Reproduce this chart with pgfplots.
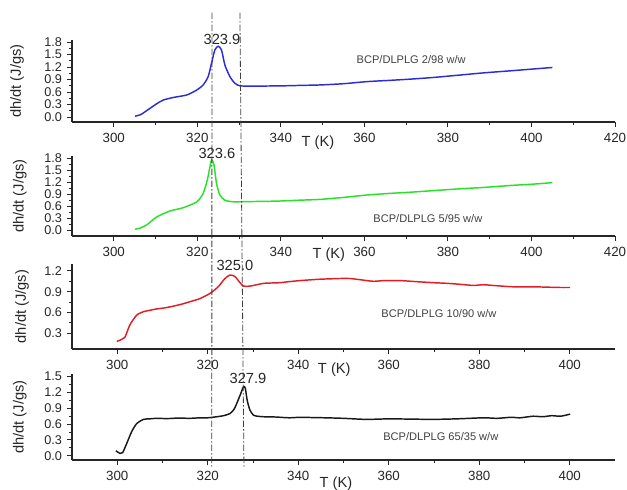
\documentclass[border=0pt]{standalone}
\usepackage{fontspec}
\setmainfont{Liberation Sans}
\usepackage{pgfplots}
\pgfplotsset{compat=1.18}

\definecolor{cblue}{RGB}{45,45,215}
\definecolor{cgreen}{RGB}{40,225,40}
\definecolor{cred}{RGB}{225,30,40}

\pgfplotsset{
  panel/.style={
    scale only axis, width=407.25pt,
    axis x line*=bottom, axis y line*=left,
    axis line style={-, line width=0.8pt, black!85},
    tick align=outside, major tick length=4pt, minor tick length=2.5pt,
    minor x tick num=1, minor y tick num=1,
    tick style={line width=0.7pt, black!85},
    clip=false,
    /pgf/number format/assume math mode=true,
    xticklabel style={font=\fontsize{10}{12}\selectfont, black!85, yshift=-1pt},
    yticklabel style={font=\fontsize{9.5}{10}\selectfont, black!85,
      /pgf/number format/.cd, fixed, fixed zerofill, precision=1},
    xlabel={T (K)},
    ylabel={dh/dt (J/gs)},
    label style={font=\fontsize{11}{13}\selectfont, black!85},
  },
  curve/.style={line width=1.1pt, smooth, tension=0.4},
}
\tikzset{
  ann/.style={font=\fontsize{11}{13}\selectfont, black!85},
  leg/.style={font=\fontsize{8.3}{10}\selectfont, black!75},
}

\begin{document}
\begin{tikzpicture}
\path[use as bounding box] (0,0) rectangle (470.25pt,-366.75pt);

% panel 1
\begin{axis}[panel, at={(54pt,-91.5pt)}, anchor=south west, height=61.5pt,
  xmin=290, xmax=420, ymin=-0.12, ymax=1.85,
  xtick={300,320,...,420}, ytick={0,0.3,...,1.8},
  xlabel style={at={(axis description cs:0.453,0)}, anchor=north, inner sep=0pt, yshift=-10pt},
  ylabel style={at={(axis description cs:-0.101,0.5)}, anchor=center}]
\addplot[curve, cblue] coordinates {(305.1,0.02)(306.5,0.06)(308.7,0.21)(310.3,0.32)(311.9,0.41)(314.3,0.47)(317.5,0.53)(319.9,0.65)(321.4,0.77)(322.6,0.97)(323.4,1.29)(324.2,1.61)(325.0,1.70)(325.8,1.61)(326.6,1.25)(327.8,0.97)(329.0,0.81)(330.2,0.75)(333,0.74)(337,0.745)(341,0.75)(345,0.76)(349.4,0.77)(355,0.80)(360.6,0.85)(366,0.88)(371,0.91)(376.5,0.95)(382,1.00)(388.5,1.06)(395,1.11)(400,1.15)(405.0,1.19)};
\node[ann] at (axis cs:325.9,1.86) {323.9};
\node[leg] at (axis cs:371.2,1.39) {BCP/DLPLG 2/98 w/w};
\coordinate (L1t) at (axis cs:323.5,2.51);
\coordinate (L2t) at (axis cs:330.2,2.51);
\end{axis}

% panel 2
\begin{axis}[panel, at={(54pt,-177pt)}, anchor=south west, height=60pt,
  xmin=290, xmax=420, ymin=-0.15, ymax=1.86,
  xtick={300,320,...,420}, ytick={0,0.3,...,1.8},
  xlabel style={at={(axis description cs:0.473,0)}, anchor=north, inner sep=0pt, yshift=-9pt},
  ylabel style={at={(axis description cs:-0.096,0.5)}, anchor=center}]
\addplot[curve, cgreen] coordinates {(305.1,0.02)(306.3,0.05)(307.9,0.13)(310.3,0.33)(313.5,0.48)(316.6,0.56)(319.9,0.71)(321.4,0.92)(322.4,1.26)(323.2,1.68)(323.5,1.76)(324.0,1.63)(324.6,1.17)(325.4,0.88)(326.6,0.75)(328.6,0.71)(332,0.715)(336,0.72)(340,0.73)(344.5,0.75)(349.4,0.77)(355,0.82)(360.6,0.88)(366,0.92)(371,0.95)(376.5,0.99)(382,1.03)(388.5,1.07)(395,1.12)(400,1.15)(405.0,1.19)};
\node[ann] at (axis cs:324.7,1.93) {323.6};
\node[leg] at (axis cs:375.2,0.30) {BCP/DLPLG 5/95 w/w};
\end{axis}

% panel 3
\begin{axis}[panel, at={(54pt,-261.75pt)}, anchor=south west, height=63.75pt,
  xmin=290, xmax=410, ymin=0.07, ymax=1.3,
  xtick={300,320,...,400}, ytick={0.3,0.6,0.9,1.2},
  xlabel style={at={(axis description cs:0.483,0)}, anchor=north, inner sep=0pt, yshift=-10.5pt},
  ylabel style={at={(axis description cs:-0.092,0.5)}, anchor=center}]
\addplot[curve, cred] coordinates {(299.9,0.18)(301.0,0.21)(301.7,0.24)(302.8,0.42)(304.3,0.56)(305.8,0.61)(307.2,0.63)(308.7,0.65)(310.5,0.665)(312.4,0.69)(314.3,0.72)(316.1,0.755)(318.3,0.80)(320.5,0.875)(322.3,0.97)(323.8,1.09)(324.9,1.14)(326.0,1.12)(327.0,1.04)(327.9,0.98)(329.3,0.98)(330.8,1.00)(332.3,1.02)(334,1.025)(336,1.03)(338,1.045)(340.4,1.06)(342.5,1.07)(344.8,1.08)(347,1.085)(349,1.09)(351.4,1.09)(354,1.07)(356.6,1.05)(359,1.06)(362.5,1.06)(366,1.045)(369.8,1.03)(373,1.02)(376,1.005)(378.7,0.99)(380.9,1.00)(384,0.985)(387.5,0.97)(391.9,0.97)(395,0.965)(398,0.96)(400.1,0.96)};
\node[ann] at (axis cs:326.0,1.28) {325.0};
\node[leg] at (axis cs:371.1,0.59) {BCP/DLPLG 10/90 w/w};
\end{axis}

% panel 4
\begin{axis}[panel, at={(54pt,-345pt)}, anchor=south west, height=64.5pt,
  xmin=290, xmax=410, ymin=-0.08, ymax=1.55,
  xtick={300,320,...,400}, ytick={0,0.3,...,1.5},
  xlabel style={at={(axis description cs:0.486,0)}, anchor=north, inner sep=0pt, yshift=-12.5pt},
  ylabel style={at={(axis description cs:-0.096,0.5)}, anchor=center}]
\addplot[curve, black!90] coordinates {(299.7,0.095)(300.6,0.045)(301.2,0.06)(302.1,0.235)(303.2,0.46)(304.3,0.61)(305.8,0.69)(307.2,0.70)(308.7,0.71)(311,0.705)(313.5,0.715)(316,0.71)(318.3,0.72)(320,0.72)(322,0.74)(323.5,0.76)(324.9,0.80)(325.8,0.88)(326.4,0.99)(327.3,1.18)(327.9,1.31)(328.3,1.28)(328.7,1.06)(329.3,0.87)(330.1,0.77)(331,0.75)(332.3,0.74)(335,0.735)(338,0.72)(340.4,0.73)(343,0.725)(346,0.72)(350,0.71)(355,0.69)(360,0.70)(365,0.695)(369.8,0.69)(375,0.70)(380.9,0.72)(384,0.71)(387,0.73)(389,0.72)(391.9,0.75)(394,0.74)(396,0.76)(398,0.75)(400.1,0.79)};
\node[ann] at (axis cs:328.9,1.47) {327.9};
\node[leg] at (axis cs:371.5,0.37) {BCP/DLPLG 65/35 w/w};
\coordinate (L1b) at (axis cs:320.9,-0.21);
\coordinate (L2b) at (axis cs:328.0,-0.21);
\end{axis}

\draw[black!75, line width=0.6pt, dash pattern=on 5pt off 1.5pt on 1pt off 1.5pt] (L1t) -- (L1b);
\draw[black!75, line width=0.6pt, dash pattern=on 5pt off 1.5pt on 1pt off 1.5pt] (L2t) -- (L2b);
\end{tikzpicture}
\end{document}
